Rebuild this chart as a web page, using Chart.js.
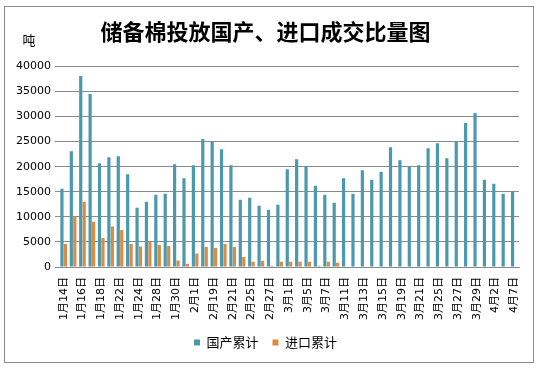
<!DOCTYPE html>
<html>
<head>
<meta charset="utf-8">
<script src="https://cdn.jsdelivr.net/npm/chart.js@4/dist/chart.umd.min.js"></script>
<style>
    html, body { margin: 0; padding: 0; background: #ffffff; }
    #wrap { position: relative; width: 538px; height: 368px; }
</style>
</head>
<body>
<div id="wrap"><canvas id="chart" width="538" height="368"></canvas></div>
<script>
// Trading days (every other one is labelled on the axis)
const dates = [
    '1月14日', '1月15日', '1月16日', '1月17日', '1月18日', '1月21日', '1月22日', '1月23日',
    '1月24日', '1月25日', '1月28日', '1月29日', '1月30日', '1月31日', '2月1日', '2月18日',
    '2月19日', '2月20日', '2月21日', '2月22日', '2月25日', '2月26日', '2月27日', '2月28日',
    '3月1日', '3月4日', '3月5日', '3月6日', '3月7日', '3月8日', '3月11日', '3月12日',
    '3月13日', '3月14日', '3月15日', '3月18日', '3月19日', '3月20日', '3月21日', '3月22日',
    '3月25日', '3月26日', '3月27日', '3月28日', '3月29日', '4月1日', '4月2日', '4月3日',
    '4月7日'
];

// Domestic cotton, cumulative (tons)
const domestic = [
    15600, 23100, 38100, 34500, 20700, 21900, 22100, 18500,
    11800, 13000, 14400, 14600, 20500, 17700, 20300, 25500,
    25000, 23500, 20300, 13400, 13800, 12200, 11400, 12400,
    19500, 21500, 20100, 16200, 14400, 12800, 17700, 14600,
    19300, 17400, 19000, 23900, 21300, 20000, 20300, 23700,
    24700, 21700, 25000, 28700, 30700, 17400, 16600, 14600,
    15100
];

// Imported cotton, cumulative (tons)
const imported = [
    4600, 10100, 13000, 9000, 5800, 8100, 7400, 4600,
    4100, 5000, 4400, 4200, 1300, 650, 2700, 4000,
    3800, 4600, 4000, 2000, 1050, 1250, 250, 1050,
    1050, 1050, 1050, 250, 1050, 850, 0, 0,
    0, 0, 0, 0, 0, 0, 0, 0,
    0, 0, 0, 0, 0, 0, 0, 0,
    0
];

const yTicks = [0, 5000, 10000, 15000, 20000, 25000, 30000, 35000, 40000];

const COLORS = {
    domestic: '#4b99ae',
    imported: '#dd8a43',
    grid: '#8a8a8a',
    border: '#8c8c8c',
    text: '#000000'
};

// Frame round the whole chart and the unit label
const framePlugin = {
    id: 'frame',
    afterDraw(chart) {
        const ctx = chart.ctx;
        ctx.save();
        ctx.strokeStyle = COLORS.border;
        ctx.lineWidth = 1;
        ctx.strokeRect(4.5, 6.5, 529, 356);
        ctx.fillStyle = COLORS.text;
        ctx.font = '13px "Noto Sans CJK SC"';
        ctx.textAlign = 'center';
        ctx.textBaseline = 'middle';
        ctx.fillText('吨', 29, 40);
        ctx.restore();
    }
};

new Chart(document.getElementById('chart'), {
    type: 'bar',
    data: {
        labels: dates,
        datasets: [{
            label: '国产累计',
            data: domestic,
            backgroundColor: COLORS.domestic,
            categoryPercentage: 0.74,
            barPercentage: 0.92
        }, {
            label: '进口累计',
            data: imported,
            backgroundColor: COLORS.imported,
            categoryPercentage: 0.74,
            barPercentage: 0.92
        }]
    },
    options: {
        responsive: false,
        animation: false,
        layout: {
            padding: { left: 12, right: 19, top: 4, bottom: 9 }
        },
        plugins: {
            title: {
                display: true,
                text: '储备棉投放国产、进口成交比量图',
                color: COLORS.text,
                font: { family: '"Noto Sans CJK SC"', size: 22, weight: 'bold' },
                padding: { top: 14, bottom: 22 }
            },
            legend: {
                position: 'bottom',
                labels: {
                    boxWidth: 6,
                    boxHeight: 6,
                    padding: 14,
                    color: COLORS.text,
                    font: { family: '"Noto Sans CJK SC"', size: 13 }
                }
            },
            tooltip: { enabled: false }
        },
        scales: {
            x: {
                grid: { display: false },
                border: { color: COLORS.grid },
                ticks: {
                    autoSkip: false,
                    maxRotation: 90,
                    minRotation: 90,
                    padding: 2,
                    color: COLORS.text,
                    font: { family: 'Verdana, "DejaVu Sans", "Noto Sans CJK SC"', size: 11 },
                    callback: (value, index) => index % 2 === 0 ? dates[index] : ''
                }
            },
            y: {
                min: 0,
                max: 40000,
                afterBuildTicks: axis => {
                    axis.ticks = yTicks.map(v => ({ value: v }));
                },
                grid: { color: COLORS.grid, drawTicks: true, tickLength: 4 },
                border: { display: false },
                ticks: {
                    padding: 4,
                    color: COLORS.text,
                    font: { family: 'Verdana, "DejaVu Sans"', size: 11 },
                    callback: value => String(value)
                }
            }
        }
    },
    plugins: [framePlugin]
});
</script>
</body>
</html>
